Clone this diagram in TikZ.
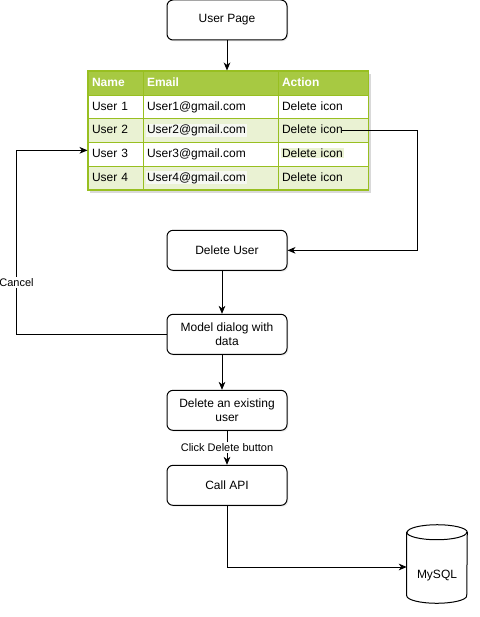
\documentclass[tikz,border=0pt]{standalone}
\usepackage{fontspec}
\setmainfont{Liberation Sans}
\usetikzlibrary{arrows.meta,matrix,backgrounds,positioning,shadows}
\definecolor{thead}{HTML}{A7C942}
\definecolor{tlight}{HTML}{EAF2D3}
\definecolor{tline}{HTML}{98BF21}
\definecolor{hlpale}{HTML}{F6F8F2}
\newcommand{\mainsize}{\fontsize{9}{10.5}\selectfont}
\newcommand{\hlbox}[2]{{\setlength{\fboxsep}{0.75pt}\hspace*{-0.75pt}\colorbox{#1}{#2}}}

\begin{document}
\begin{tikzpicture}[x=0.75pt,y=-0.75pt]
   \tikzstyle{box}=[draw,rounded corners=4.5pt,minimum width=90pt,minimum height=30pt,align=center,fill=white,font=\mainsize,line width=0.75pt,drop shadow={opacity=0.15,shadow xshift=1pt,shadow yshift=-1pt}]
   \tikzstyle{ar}=[line width=0.75pt,-{Stealth[length=6pt,width=5pt,inset=1.8pt]}]
   \tikzstyle{lbl}=[fill=white,inner sep=1pt,font=\fontsize{8.25}{9.5}\selectfont]
   \tikzstyle{tcell}=[draw=tline,line width=0.75pt,minimum height=17.75pt,inner xsep=3pt,inner ysep=0pt,text height=6.5pt,text depth=2pt,anchor=center,font=\mainsize]
   \tikzstyle{dbnode}=[minimum width=45pt,minimum height=58.5pt,inner sep=0pt]

   \useasboundingbox (0,0) rectangle (479,617);
   \node (page) [box] at (227,20) {User Page};
   \matrix (users) [below=22.5pt of page,xshift=0.75pt,matrix of nodes,nodes={tcell},row sep=-0.75pt,column sep=-0.75pt,
      draw=tline,line width=0.75pt,inner sep=0pt,fill=white,
      drop shadow={opacity=0.3,shadow xshift=2pt,shadow yshift=-2pt},
      column 1/.style={nodes={text width=35.25pt}},
      column 2/.style={nodes={text width=95.25pt}},
      column 3/.style={nodes={text width=61.5pt}},
      row 1/.style={nodes={fill=thead,text=white,font=\mainsize\bfseries}},
      row 3/.style={nodes={fill=tlight}},
      row 5/.style={nodes={fill=tlight}}] {
      Name & Email & Action \\
      User 1 & User1@gmail.com & Delete icon \\
      User 2 & \hlbox{hlpale}{User2@gmail.com} & Delete icon \\
      User 3 & User3@gmail.com & \hlbox{tlight}{Delete icon} \\
      User 4 & \hlbox{hlpale}{User4@gmail.com} & Delete icon \\
   } ;
   \node (del) [box,below=29.25pt of users,xshift=-0.75pt] {Delete User};
   \node (dlg) [box,below=32.25pt of del] {Model dialog with\\data};
   \node (rm) [box,below=26.25pt of dlg] {Delete an existing\\user};
   \node (api) [box,below=25.5pt of rm] {Call API};
   \node (db) [dbnode,label={[font=\mainsize,yshift=-9pt]center:MySQL}] at (437,564) {};
   \begin{scope}[on background layer]
      \draw [line width=0.75pt,fill=white] ([yshift=-5.625pt]db.north west) -- ([yshift=5.625pt]db.south west)
         arc[start angle=180,end angle=360,x radius=22.5pt,y radius=5.625pt] -- ([yshift=-5.625pt]db.north east)
         arc[start angle=0,end angle=180,x radius=22.5pt,y radius=5.625pt] -- cycle;
      \draw [line width=0.75pt] ([yshift=-5.625pt]db.north west) arc[start angle=180,end angle=360,x radius=22.5pt,y radius=5.625pt];
   \end{scope}
   \draw [ar] (page) -- (page |- users.north) ;
   \draw [ar] ([xshift=14.25pt]users-3-3.center) -| ([xshift=97.5pt]del.east) -- (del.east) ;
   \draw [ar] ([xshift=-3.75pt]del.south) -- ([xshift=-3.75pt]dlg.north) ;
   \draw [ar] (dlg.west) -- ++(-112.5pt,0) |- node [lbl,pos=0.14] {Cancel} ([yshift=3pt]users-4-1.west) ;
   \draw [ar] ([xshift=-3.75pt]dlg.south) -- ([xshift=-3.75pt]rm.north) ;
   \draw [ar] (rm) -- node [lbl] {Click Delete button} (api) ;
   \draw [ar] (api) |- ([yshift=-2.25pt]db.west) ;
\end{tikzpicture}
\end{document}
